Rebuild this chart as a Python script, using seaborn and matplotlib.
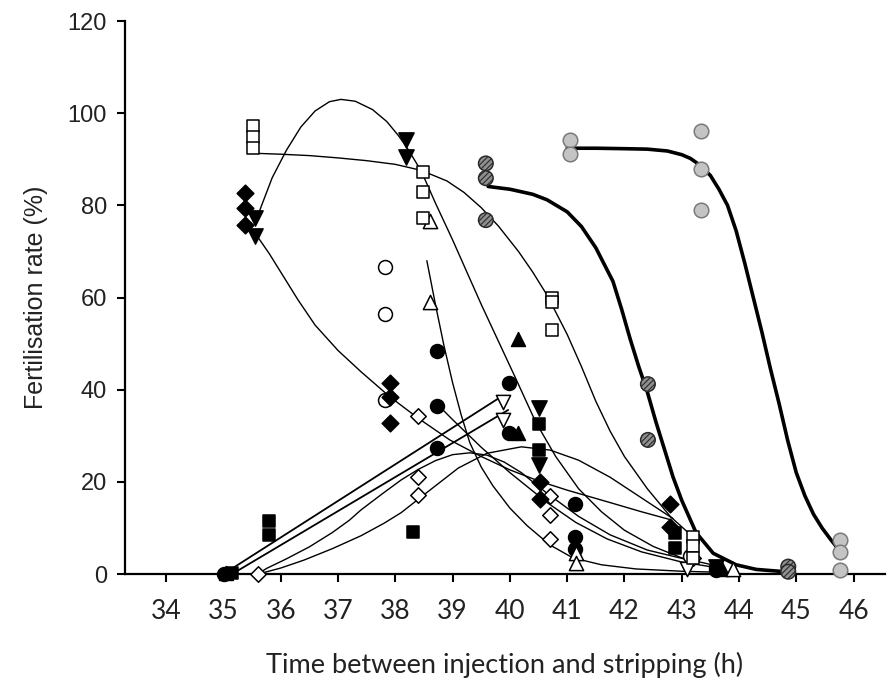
import matplotlib
matplotlib.use("Agg")
import matplotlib.pyplot as plt
import seaborn as sns

# Fertilisation rate (%) against time between injection and stripping (h)
# one series per female, each with its own marker

diamond_x = [35.38, 35.38, 35.38, 37.91, 37.91, 37.91, 40.52, 40.52, 42.79, 42.79]
diamond_y = [82.7, 79.4, 75.7, 41.5, 38.5, 32.7, 20.0, 16.2, 15.3, 10.3]

tri_down_x = [35.55, 35.55, 38.19, 38.19, 40.5, 40.5, 43.6]
tri_down_y = [77.2, 73.4, 94.2, 90.6, 36.0, 23.7, 1.5]

open_square_x = [35.52, 35.52, 35.52, 38.49, 38.49, 38.49, 40.73, 40.73, 40.73, 43.2, 43.2, 43.2]
open_square_y = [97.2, 94.8, 92.4, 87.2, 82.8, 77.3, 60.0, 59.0, 53.0, 8.0, 6.1, 3.5]

open_circle_x = [37.82, 37.82, 37.82, 43.15]
open_circle_y = [66.6, 56.4, 37.8, 4.0]

open_tri_x = [38.6, 38.6, 41.16, 41.16, 43.9]
open_tri_y = [76.5, 59.0, 4.5, 2.3, 1.0]

tri_up_x = [35.05, 40.15, 40.15, 43.7]
tri_up_y = [0.3, 51.1, 30.7, 1.0]

circle_x = [35.0, 38.72, 38.72, 38.72, 39.98, 39.98, 41.13, 41.13, 41.13, 43.6, 43.6]
circle_y = [0.0, 48.3, 36.5, 27.3, 41.4, 30.5, 15.3, 8.1, 5.5, 1.5, 0.8]

square_x = [35.15, 35.8, 35.8, 38.3, 40.5, 40.5, 42.88, 42.88]
square_y = [0.2, 11.5, 8.5, 9.2, 32.6, 26.9, 8.9, 5.6]

open_diamond_x = [35.6, 38.4, 38.4, 38.4, 40.7, 40.7, 40.7, 43.2]
open_diamond_y = [0.0, 34.3, 21.1, 17.1, 16.9, 12.8, 7.5, 3.4]

open_tri_down_x = [39.88, 39.88, 43.1]
open_tri_down_y = [37.4, 33.4, 1.0]

hatched_x = [39.58, 39.58, 39.58, 42.41, 42.41, 44.86, 44.86]
hatched_y = [89.1, 85.9, 76.8, 41.2, 29.1, 1.6, 0.5]

grey_x = [41.05, 41.05, 43.33, 43.33, 43.33, 45.76, 45.76, 45.76]
grey_y = [94.2, 91.1, 96.1, 88.0, 79.0, 7.4, 4.8, 0.9]

# fitted curves
fit_square_x = [35.55, 36.0, 36.5, 37.0, 37.5, 38.0, 38.45, 38.9, 39.2, 39.5, 39.8, 40.15, 40.4,
                40.65, 41.0, 41.25, 41.5, 41.75, 42.0, 42.4, 42.8, 43.2]
fit_square_y = [91.3, 91.1, 90.8, 90.3, 89.7, 88.9, 87.6, 85.3, 82.8, 79.5, 75.5, 70.0, 65.5,
                60.5, 52.0, 45.0, 37.5, 31.0, 25.5, 18.5, 12.5, 8.0]

fit_tri_down_x = [35.55, 35.65, 35.85, 36.1, 36.35, 36.6, 36.85, 37.05, 37.3, 37.6, 37.85, 38.05,
                  38.2, 38.45, 38.7, 39.0, 39.25, 39.5, 39.8, 40.1, 40.45, 40.8, 41.2, 41.6, 42.0,
                  42.5, 43.0, 43.6]
fit_tri_down_y = [76.0, 79.5, 86.0, 92.0, 97.0, 100.5, 102.5, 103.0, 102.6, 100.8, 98.2, 95.2,
                  92.6, 87.5, 80.5, 72.5, 65.5, 58.5, 50.5, 42.5, 33.0, 25.5, 18.5, 13.5, 9.5,
                  6.0, 3.5, 1.8]

fit_diamond_x = [35.55, 35.8, 36.0, 36.3, 36.6, 37.0, 37.4, 37.9, 38.4, 38.95, 39.5, 40.0, 40.5,
                 41.0, 41.75, 42.3, 42.8]
fit_diamond_y = [74.0, 69.5, 65.5, 59.5, 54.0, 48.5, 43.9, 38.5, 33.8, 29.1, 25.5, 22.6, 20.2,
                 18.2, 15.5, 13.5, 11.8]

fit_hatched_x = [39.62, 40.0, 40.4, 40.65, 41.0, 41.25, 41.5, 41.8, 41.95, 42.1, 42.25, 42.4,
                 42.55, 42.7, 42.85, 43.0, 43.25, 43.55, 43.95, 44.3, 44.8]
fit_hatched_y = [84.1, 83.5, 82.4, 81.2, 78.6, 75.4, 70.8, 63.5, 57.5, 51.0, 45.0, 39.5,
                 33.0, 27.0, 21.0, 16.0, 9.0, 4.5, 2.0, 1.0, 0.5]

fit_grey_x = [41.0, 41.5, 42.0, 42.4, 42.75, 43.0, 43.15, 43.3, 43.5, 43.65, 43.8, 43.95, 44.1,
              44.25, 44.4, 44.55, 44.7, 44.85, 45.0, 45.15, 45.3, 45.45, 45.6, 45.76]
fit_grey_y = [92.4, 92.4, 92.3, 92.2, 91.8, 91.0, 90.2, 88.9, 86.5, 83.5, 80.0, 74.5, 67.5,
              60.0, 52.5, 44.5, 37.0, 29.0, 22.0, 17.0, 13.0, 10.0, 7.5, 5.0]

fit_open_tri_x = [38.55, 38.7, 38.85, 39.0, 39.15, 39.3, 39.5, 39.7, 40.0, 40.3, 40.7, 41.1,
                  41.6, 42.2, 43.0, 43.9]
fit_open_tri_y = [68.0, 58.5, 49.5, 41.5, 34.5, 28.5, 23.2, 19.2, 14.3, 10.5, 6.3, 3.5,
                  2.0, 1.1, 0.6, 0.3]

fit_circle_x = [38.72, 39.0, 39.5, 40.0, 40.65, 41.15, 41.7, 42.3, 43.0, 43.6]
fit_circle_y = [37.0, 33.5, 27.5, 22.0, 15.5, 11.2, 7.6, 4.8, 2.6, 1.4]

fit_open_tri_down_x = [35.0, 39.8]
fit_open_tri_down_y = [0.0, 38.1]

fit_circle2_x = [35.15, 39.97]
fit_circle2_y = [0.0, 35.6]

fit_open_diamond_x = [35.6, 35.75, 36.1, 36.5, 36.9, 37.2, 37.4, 37.75, 38.1, 38.4, 38.7, 39.0,
                      39.3, 39.6, 39.9, 40.2, 40.65, 41.2, 41.75, 42.4, 43.2]
fit_open_diamond_y = [0.0, 1.2, 3.3, 5.9, 9.0, 11.7, 13.9, 17.2, 20.4, 22.7, 24.6, 25.9,
                      26.3, 25.8, 24.3, 22.0, 17.5, 12.5, 8.5, 5.2, 2.8]

fit_square2_x = [35.7, 36.0, 36.4, 36.9, 37.4, 37.8, 38.1, 38.5, 39.1, 39.6, 40.2, 40.7, 41.2,
                 41.75, 42.3, 42.85]
fit_square2_y = [0.3, 1.3, 3.0, 5.5, 8.3, 11.0, 13.3, 17.2, 23.0, 26.2, 27.6, 26.9, 24.7,
                 21.0, 16.5, 12.0]

x_ticks = list(range(34, 47))
y_ticks = list(range(0, 121, 20))

sns.set_style("ticks")
plt.rcParams["font.family"] = ["Liberation Sans", "DejaVu Sans"]
plt.rcParams["hatch.color"] = "#2a2a2a"
plt.rcParams["hatch.linewidth"] = 0.8

fig = plt.figure(figsize=(8.91, 6.90), dpi=100)
ax = fig.add_axes([0.1403, 0.1681, 0.853, 0.8014])

# curves: (x, y, linewidth)
curves = [
    (fit_square_x, fit_square_y, 1.0),
    (fit_tri_down_x, fit_tri_down_y, 1.0),
    (fit_diamond_x, fit_diamond_y, 1.0),
    (fit_open_tri_x, fit_open_tri_y, 1.0),
    (fit_circle_x, fit_circle_y, 1.0),
    (fit_open_tri_down_x, fit_open_tri_down_y, 1.3),
    (fit_circle2_x, fit_circle2_y, 1.3),
    (fit_open_diamond_x, fit_open_diamond_y, 1.0),
    (fit_square2_x, fit_square2_y, 1.0),
    (fit_hatched_x, fit_hatched_y, 2.6),
    (fit_grey_x, fit_grey_y, 2.6),
]
for cx, cy, lw in curves:
    sns.lineplot(x=cx, y=cy, sort=False, estimator=None, color="black", lw=lw, ax=ax, zorder=2)

# markers: (x, y, marker, face, edge, size)
series = [
    (square_x, square_y, "s", "black", "black", 80),
    (circle_x, circle_y, "o", "black", "black", 100),
    (tri_up_x, tri_up_y, "^", "black", "black", 100),
    (open_diamond_x, open_diamond_y, "D", "white", "black", 62),
    (open_tri_down_x, open_tri_down_y, "v", "white", "black", 105),
    (open_circle_x, open_circle_y, "o", "white", "black", 100),
    (open_tri_x, open_tri_y, "^", "white", "black", 105),
    (open_square_x, open_square_y, "s", "white", "black", 80),
    (diamond_x, diamond_y, "D", "black", "black", 72),
    (tri_down_x, tri_down_y, "v", "black", "black", 120),
    (grey_x, grey_y, "o", "#c4c4c4", "#7a7a7a", 110),
]
for sx, sy, m, fc, ec, s in series:
    sns.scatterplot(x=sx, y=sy, marker=m, color=fc, edgecolor=ec, s=s, linewidth=1.1,
                    ax=ax, zorder=3, clip_on=False)
sns.scatterplot(x=hatched_x, y=hatched_y, marker="o", color="#8f8f8f", edgecolor="#2a2a2a",
                s=110, linewidth=1.1, hatch="//////", ax=ax, zorder=3, clip_on=False)

ax.set_xlim(33.28, 46.55)
ax.set_ylim(0, 120)
ax.set_xticks(x_ticks)
ax.set_yticks(y_ticks)
ax.set_xticklabels([str(t) for t in x_ticks], family=["Lato", "DejaVu Sans"], fontsize=19,
                   color="#222222")
ax.set_yticklabels([str(t) for t in y_ticks], fontsize=17, color="#222222")
ax.set_xlabel("Time between injection and stripping (h)", family=["Lato", "DejaVu Sans"],
              fontsize=19.5, color="#222222", labelpad=20)
ax.set_ylabel("Fertilisation rate (%)", fontsize=18, color="#222222", labelpad=14)

sns.despine(ax=ax)
for side in ["left", "bottom"]:
    ax.spines[side].set_linewidth(1.6)
    ax.spines[side].set_color("black")
ax.tick_params(direction="out", length=6, width=1.5, color="black")
ax.tick_params(axis="x", pad=12)
ax.tick_params(axis="y", pad=7)

fig.savefig("out.png", dpi=100)
